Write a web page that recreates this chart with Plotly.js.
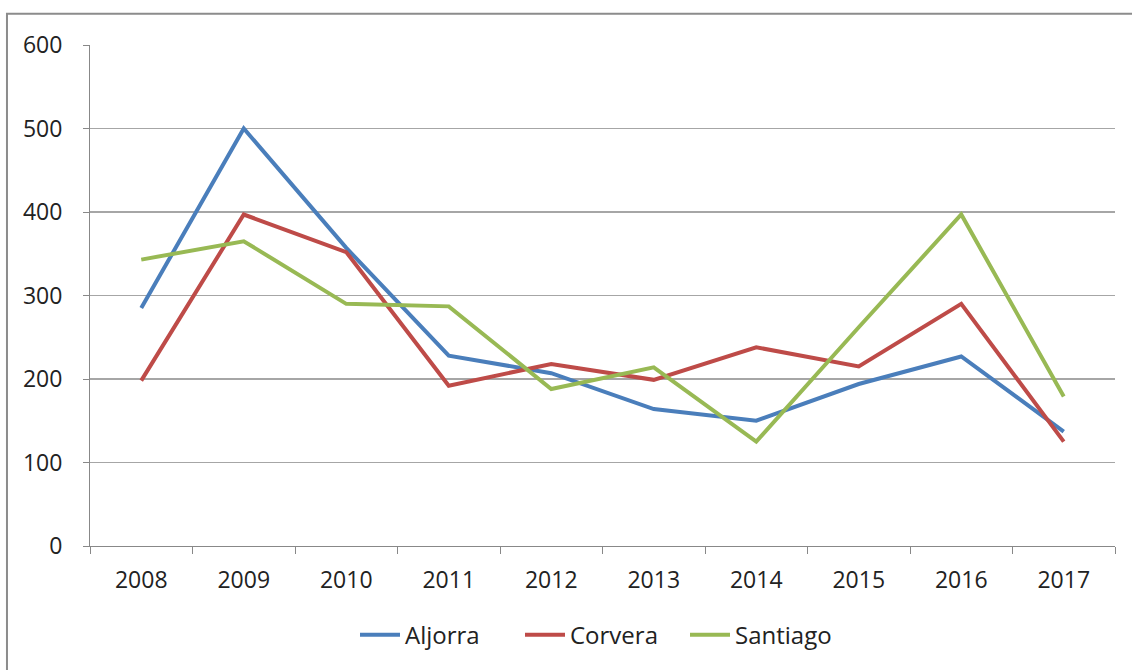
<!DOCTYPE html>
<html>
<head>
<meta charset="utf-8">
<script src="https://cdn.plot.ly/plotly-3.0.1.min.js"></script>
<style>html,body{margin:0;padding:0;background:#fff;}#chart{width:1132px;height:670px;}</style>
</head>
<body>
<div id="chart"></div>
<script>
const years = ["2008","2009","2010","2011","2012","2013","2014","2015","2016","2017"];
const aljorra  = [285, 500, 357, 228, 207, 164, 150, 194, 227, 137];
const corvera  = [198, 397, 352, 192, 218, 199, 238, 215, 290, 125];
const santiago = [343, 365, 290, 287, 188, 214, 125, 262, 397, 179];
const yTicks = [0, 100, 200, 300, 400, 500, 600];

const mk = (name, y, color) => ({
  type: "scatter", mode: "lines", name: name, x: years, y: y,
  line: {color: color, width: 4}
});

const data = [
  mk("Aljorra", aljorra, "#4a7ebb"),
  mk("Corvera", corvera, "#be4b48"),
  mk("Santiago", santiago, "#98b954")
];

const layout = {
  width: 1132, height: 670,
  paper_bgcolor: "#fff", plot_bgcolor: "#fff",
  margin: {l: 90, r: 17, t: 45, b: 124},
  font: {family: "Open Sans, Liberation Sans, sans-serif", size: 23, color: "#222"},
  showlegend: true,
  legend: {orientation: "h", x: 0.5, xanchor: "center", y: -0.178, yanchor: "middle",
           font: {size: 24, color: "#222"}, itemwidth: 40, tracegroupgap: 0,
           entrywidth: 110, entrywidthmode: "pixels"},
  xaxis: {
    type: "category", range: [-0.5, 9.5], tickson: "boundaries",
    ticks: "outside", ticklen: 7, tickcolor: "#888", tickwidth: 1,
    showline: true, linecolor: "#888", linewidth: 1, showgrid: false,
    zeroline: false, fixedrange: true, ticklabelstandoff: 13,
    tickfont: {size: 23, color: "#222"}
  },
  yaxis: {
    range: [0, 600], tickvals: yTicks, ticktext: yTicks.map(String),
    ticks: "outside", ticklen: 6, tickcolor: "#888",
    showline: true, linecolor: "#888", linewidth: 1,
    showgrid: true, gridcolor: "#a6a6a6", gridwidth: 1.3,
    zeroline: false, fixedrange: true, ticklabelstandoff: 16,
    tickfont: {size: 23, color: "#222"}
  },
  shapes: [{
    type: "rect", xref: "paper", yref: "paper",
    x0: -0.081, x1: 1.05, y0: -0.4, y1: 1.0623,
    line: {color: "#8c8c8c", width: 2}, fillcolor: "rgba(0,0,0,0)", layer: "below"
  }]
};

Plotly.newPlot("chart", data, layout, {displayModeBar: false, staticPlot: true});
</script>
</body>
</html>
